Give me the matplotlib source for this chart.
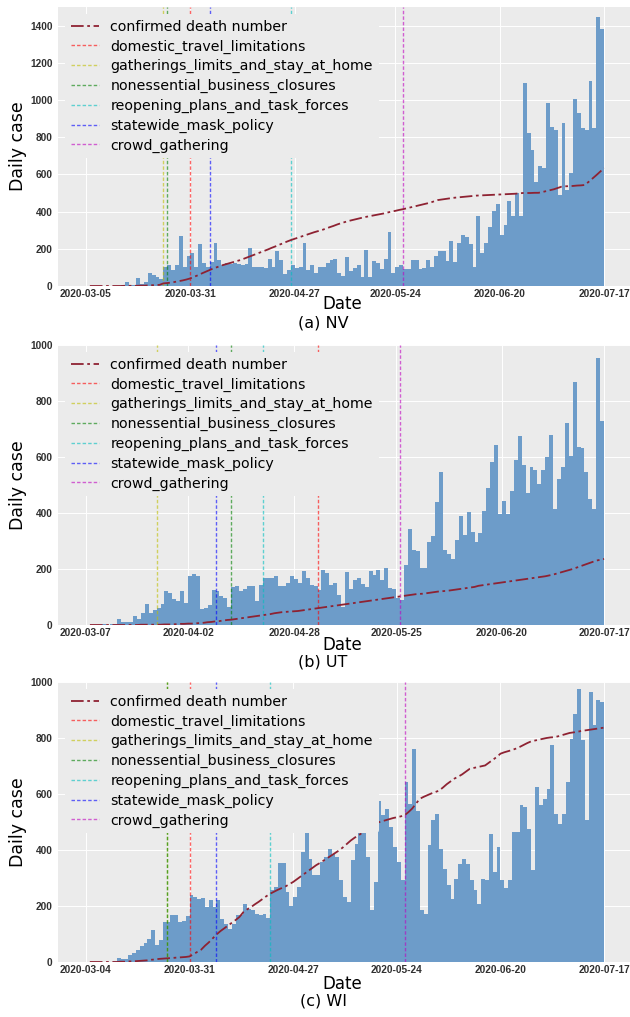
import numpy as np
import matplotlib
matplotlib.use("Agg")
import matplotlib.pyplot as plt

################################################
# Data
################################################

policy_names = ["domestic_travel_limitations",
                "gatherings_limits_and_stay_at_home",
                "nonessential_business_closures",
                "reopening_plans_and_task_forces",
                "statewide_mask_policy",
                "crowd_gathering"]
policy_colors = ["r", "y", "g", "c", "b", "m"]

# --- NV ---
nv_ticks = ["2020-03-05", "2020-03-31", "2020-04-27", "2020-05-24", "2020-06-20", "2020-07-17"]
nv_daily = [0, 0, 0, 0, 0, 1, 0, 2, 1, 3,
            23, 8, 6, 41, 12, 20, 68, 60, 50, 40,
            100, 113, 86, 113, 269, 104, 161, 179, 100, 226,
            122, 104, 131, 229, 140, 113, 125, 120, 122, 118,
            115, 120, 202, 100, 100, 100, 98, 143, 104, 190,
            140, 63, 86, 113, 95, 100, 229, 86, 113, 68,
            104,
            104, 122, 140, 143, 72, 54, 158, 82, 95, 113,
            50, 194, 50, 136, 122, 90, 143, 292, 72, 104,
            113, 90, 90, 140, 140, 90, 95, 140, 104, 161,
            190, 190, 136, 244, 131, 233, 274, 262, 224, 104,
            376, 179, 233, 319, 405, 441, 274, 328, 459, 376,
            498, 376, 1093, 821, 731, 561, 645, 633, 982, 857,
            839, 489, 874, 516, 606, 1003, 928, 848, 839, 1102,
            851, 1444, 1380]
nv_death = [0, 0, 0, 0, 0, 0, 0, 0, 0, 1,
            1, 1, 1, 2, 2, 3, 4, 5, 6, 14,
            16, 18, 22, 26, 30, 35, 41, 50, 58, 68,
            77, 86, 95, 102, 110, 116, 122, 128, 134, 140,
            148, 156, 164, 172, 180, 188, 196, 205, 213, 222,
            230, 239, 247, 254, 261, 268, 275, 282, 289, 295,
            301, 308, 316, 323, 331, 338, 344, 350, 355, 360,
            365, 370, 374, 378, 382, 386, 390, 395, 400, 404,
            409, 413, 418, 423, 428, 433, 438, 443, 448, 455,
            462, 465, 468, 471, 474, 476, 478, 480, 482, 484,
            486, 487, 488, 489, 490, 491, 492, 493, 494, 495,
            496, 498, 500, 500, 500, 501, 501, 505, 510, 515,
            520, 527, 534, 536, 537, 538, 540, 541, 543, 560,
            578, 596, 615, 634]
nv_policy = [27, 20, 21, 53, 32, 82]

# --- UT ---
ut_ticks = ["2020-03-07", "2020-04-02", "2020-04-28", "2020-05-25", "2020-06-20", "2020-07-17"]
ut_daily = [0, 0, 1, 1, 2, 1, 2, 5, 20, 12,
            12, 12, 32, 20, 44, 74, 44, 54, 60, 75,
            120, 116, 92, 84, 123, 78, 176, 182, 176, 56,
            60, 72, 126, 122, 102, 95, 66, 135, 140, 120,
            128, 138, 140, 84, 144, 168, 168, 168, 174, 140,
            140, 150, 174, 164, 150, 192, 168, 144, 138,
            126, 198, 186, 144, 150, 108, 66, 188, 128, 162,
            168, 147, 135, 192, 180, 198, 162, 204, 132, 129,
            96, 90, 216, 344, 269, 263, 204, 204, 296, 317,
            440, 545, 269, 255, 236, 305, 389, 323, 404, 332,
            296, 329, 407, 491, 583, 643, 395, 443, 395, 479,
            590, 674, 571, 473, 566, 554, 503, 554, 599, 677,
            413, 521, 566, 722, 602, 868, 635, 632, 545, 449,
            413, 954, 727]
ut_death = [0, 0, 0, 0, 0, 0, 0, 0, 0, 0,
            0, 0, 0, 1, 1, 1, 1, 1, 1, 2,
            2, 2, 3, 4, 4, 5, 5, 6, 7, 8,
            10, 11, 13, 14, 16, 18, 19, 21, 23, 25,
            27, 29, 31, 33, 35, 37, 39, 42, 44, 46,
            47, 48, 49, 50, 52, 54, 56, 58, 60, 62,
            64, 66, 68, 70, 72, 74, 76, 78, 80, 82,
            84, 86, 88, 90, 92, 94, 96, 98, 100, 102,
            104, 106, 108, 110, 111, 112, 114, 116, 118, 120,
            121, 122, 124, 126, 128, 130, 132, 134, 136, 140,
            142, 144, 146, 148, 150, 152, 154, 156, 158, 160,
            162, 164, 166, 168, 170, 172, 174, 177, 180, 184,
            188, 192, 196, 200, 205, 210, 215, 220, 225, 230,
            233, 236]
ut_policy = [59, 18, 37, 45, 33, 80]

# --- WI ---
wi_ticks = ["2020-03-04", "2020-03-31", "2020-04-27", "2020-05-24", "2020-06-20", "2020-07-17"]
wi_daily = [0, 0, 0, 0, 0, 1, 1, 2, 15, 10,
            12, 24, 32, 44, 56, 68, 83, 113, 60, 77,
            143, 143, 167, 167, 143, 146, 163, 238, 232, 226,
            230, 196, 222, 196, 220, 155, 137, 119, 137, 167,
            167, 208, 190, 184, 173, 167, 173, 157, 258, 268,
            353, 353, 250, 199, 232, 268, 393, 464, 369, 309,
            309, 357, 375, 405, 387, 375, 292, 232, 214, 363,
            422, 464, 464, 375, 184, 286, 575, 524, 547, 482,
            411, 357, 294, 643, 563, 762, 539, 184, 173,
            417, 506, 530, 405, 333, 274, 226, 298, 351, 369,
            351, 292, 256, 208, 298, 292, 458, 321, 411, 292,
            265, 294, 464, 464, 559, 553, 476, 327, 625, 559,
            583, 619, 774, 530, 494, 530, 643, 797, 887, 976,
            794, 506, 964, 845, 937, 928]
wi_death = [0, 0, 0, 0, 0, 0, 0, 0, 1, 1,
            2, 2, 3, 4, 5, 6, 8, 9, 11, 12,
            13, 14, 15, 16, 17, 18, 20, 28, 36, 44,
            58, 70, 84, 98, 110, 120, 130, 140, 150, 161,
            178, 188, 196, 206, 215, 225, 235, 244, 251, 258,
            264, 270, 278, 286, 296, 306, 316, 326, 336, 346,
            354, 363, 372, 381, 390, 399, 410, 422, 434, 444,
            452, 462, 474, 485, 494, 498, 502, 506, 510, 514,
            517, 520, 524, 535, 548, 566, 583, 590, 596, 602,
            607, 612, 623, 635, 645, 655, 662, 670, 680, 690,
            693, 696, 699, 702, 712, 722, 732, 744, 749, 753,
            757, 762, 768, 775, 782, 788, 791, 794, 797, 800,
            802, 803, 806, 810, 814, 818, 820, 822, 825, 827,
            829, 831, 833, 835, 837]
wi_policy = [27, 21, 21, 48, 34, 83]

################################################
# Plot
################################################

W, H = 630, 1017
BG = "#ebebeb"
BAR = "#6d9cc9"
TICK_FONT = dict(family="Liberation Sans", size=7.3, color="#303030",
                 weight="bold")


def draw_panel(ax, daily, death, policy, tick_labels, ymax, ystep, ytop):
    n = len(daily)
    ax.set_facecolor(BG)
    for s in ax.spines.values():
        s.set_visible(False)

    ax.bar(np.arange(n), daily, width=1.0, align="edge", color=BAR,
           linewidth=0, zorder=2)
    ax.plot(np.arange(1, n + 1), death, color="#8e2232", lw=1.3,
            linestyle=(0, (7, 2, 1.5, 2)), label="confirmed death number",
            zorder=4)
    for x, name, col in zip(policy, policy_names, policy_colors):
        ax.axvline(x, color=col, lw=1.0, alpha=0.6, linestyle=(0, (2.5, 1.5)),
                   label=name, zorder=3)

    tick_pos = np.round(np.linspace(0, n, 6))
    ax.set_xticks(tick_pos)
    ax.set_xticklabels(tick_labels, fontdict=TICK_FONT)
    yt = np.arange(0, ymax + 1, ystep)
    ax.set_yticks(yt)
    ax.set_yticklabels([str(v) for v in yt], fontdict=TICK_FONT)
    ax.tick_params(axis="x", length=0, pad=2)
    ax.tick_params(axis="y", length=0, pad=4)
    ax.set_xlim(-0.054 * n, 1.05 * n)
    ax.set_ylim(0, ytop)
    ax.grid(True, color="white", lw=0.7, zorder=0)
    ax.set_axisbelow(True)

    leg = ax.legend(loc="upper left", fontsize=10.2, frameon=True,
                    facecolor=BG, edgecolor=BG, framealpha=1.0,
                    handlelength=2.0, labelspacing=0.4, borderaxespad=0.5)
    leg.get_frame().set_linewidth(0)


fig = plt.figure(figsize=(W / 100, H / 100), dpi=100)

panels = [
    (nv_daily, nv_death, nv_policy, nv_ticks, 1400, 1500, 7, 286, 304, 323, "(a) NV"),
    (ut_daily, ut_death, ut_policy, ut_ticks, 1000, 1000, 345, 625, 645, 662, "(b) UT"),
    (wi_daily, wi_death, wi_policy, wi_ticks, 1000, 1000, 682, 962, 984, 1001, "(c) WI"),
]

AX_LEFT = 58
for daily, death, policy, ticks, ymax, ytop, top, bottom, date_y, cap_y, cap in panels:
    ax = fig.add_axes([AX_LEFT / W, 1 - bottom / H, (W - AX_LEFT) / W, (bottom - top) / H])
    draw_panel(ax, daily, death, policy, ticks, ymax, 200, ytop)
    fig.text(18 / W, 1 - (top + bottom) / 2 / H, "Daily case", rotation=90,
             ha="center", va="center", fontsize=12.5, family="DejaVu Sans")
    fig.text(342 / W, 1 - date_y / H, "Date", ha="center", va="center",
             fontsize=12, family="DejaVu Sans")
    fig.text(323 / W, 1 - cap_y / H, cap, ha="center", va="center",
             fontsize=11.5, family="DejaVu Sans")

fig.savefig("out.png", dpi=100, facecolor="white")
